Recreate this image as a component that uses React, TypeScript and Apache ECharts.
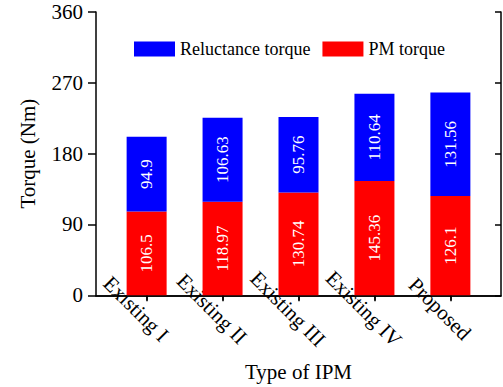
import React, { useEffect, useRef } from "react";
import * as echarts from "echarts";

const categories = ["Existing I", "Existing II", "Existing III", "Existing IV", "Proposed"];
const pmTorque = [106.5, 118.97, 130.74, 145.36, 126.1];
const reluctanceTorque = [94.9, 106.63, 95.76, 110.64, 131.56];
const positions = [1, 2, 3, 4, 5];
const yTicks = [0, 90, 180, 270, 360];

const FONT = "Liberation Serif";

function barLabel() {
  return {
    show: true,
    position: "inside",
    rotate: 90,
    color: "#fff",
    fontFamily: FONT,
    fontSize: 17,
    formatter: (p: any) => String(p.value[0]),
  };
}

export default function App() {
  const ref = useRef<HTMLDivElement>(null);
  useEffect(() => {
    document.body.style.margin = "0";
    const chart = echarts.init(ref.current!, null, { renderer: "svg" });
    const axisLine = () => ({ show: true, lineStyle: { color: "#000", width: 1.5 } });
    chart.setOption({
      animation: false,
      textStyle: { fontFamily: FONT },
      grid: { left: 96, right: 2, top: 12, bottom: 90, containLabel: false },
      legend: {
        left: 134,
        top: 40,
        padding: 0,
        itemWidth: 41,
        itemHeight: 15,
        itemGap: 12,
        icon: "rect",
        textStyle: { fontFamily: FONT, fontSize: 18, color: "#000" },
        data: ["Reluctance torque", "PM torque"],
      },
      xAxis: [
        {
          type: "value",
          min: 1 / 3,
          max: 17 / 3,
          position: "bottom",
          axisLine: axisLine(),
          splitLine: { show: false },
          axisTick: { show: true, inside: false, length: 6, customValues: positions, lineStyle: { color: "#000", width: 1.5 } },
          axisLabel: {
            show: true,
            customValues: positions,
            formatter: (v: number) => categories[Math.round(v) - 1] ?? "",
            rotate: -45,
            align: "center",
            verticalAlign: "top",
            lineHeight: 30,
            margin: 3,
            fontFamily: FONT,
            fontSize: 21,
            color: "#000",
          },
          name: "Type of IPM",
          nameLocation: "middle",
          nameGap: 58,
          nameTextStyle: { fontFamily: FONT, fontSize: 21, color: "#000", verticalAlign: "top" },
        },
        {
          type: "value",
          min: 1 / 3,
          max: 17 / 3,
          position: "top",
          axisLine: axisLine(),
          splitLine: { show: false },
          axisTick: { show: true, inside: true, length: 5, customValues: positions, lineStyle: { color: "#000", width: 1.5 } },
          axisLabel: { show: false },
        },
      ],
      yAxis: [
        {
          type: "value",
          min: 0,
          max: 360,
          interval: 90,
          position: "left",
          axisLine: axisLine(),
          splitLine: { show: false },
          axisTick: { show: true, inside: false, length: 8, lineStyle: { color: "#000", width: 1.5 } },
          axisLabel: {
            margin: 13,
            fontFamily: FONT,
            fontSize: 21,
            color: "#000",
            formatter: (v: number) => (yTicks.includes(v) ? String(v) : ""),
          },
          name: "Torque (Nm)",
          nameLocation: "middle",
          nameGap: 58,
          nameTextStyle: { fontFamily: FONT, fontSize: 21, color: "#000" },
        },
        {
          type: "value",
          min: 0,
          max: 360,
          interval: 90,
          position: "right",
          axisLine: axisLine(),
          splitLine: { show: false },
          axisTick: { show: true, inside: true, length: 6, lineStyle: { color: "#000", width: 1.5 } },
          axisLabel: { show: false },
        },
      ],
      series: [
        {
          name: "PM torque",
          type: "bar",
          stack: "total",
          barWidth: 40,
          itemStyle: { color: "#ff0000" },
          label: barLabel(),
          encode: { x: 1, y: 0 },
          data: positions.map((x, i) => [pmTorque[i], x]),
        },
        {
          name: "Reluctance torque",
          type: "bar",
          stack: "total",
          barWidth: 40,
          itemStyle: { color: "#0000ff" },
          label: barLabel(),
          encode: { x: 1, y: 0 },
          data: positions.map((x, i) => [reluctanceTorque[i], x]),
        },
      ],
    });
    return () => chart.dispose();
  }, []);
  return <div ref={ref} style={{ width: 503, height: 387 }} />;
}
